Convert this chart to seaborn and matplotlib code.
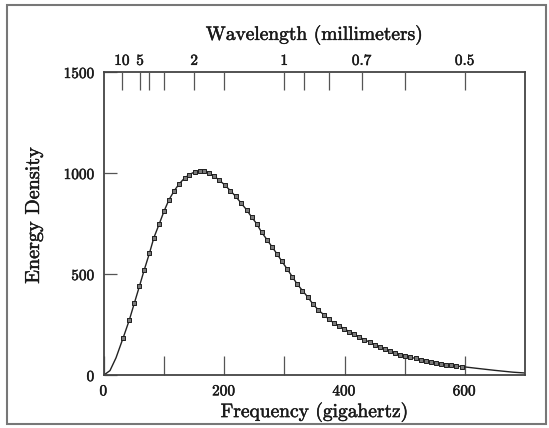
# blackbody spectrum chart: energy density vs frequency, wavelength on top axis
import numpy as np
import pandas as pd
import seaborn as sns
import matplotlib.pyplot as plt
import matplotlib.patheffects as pe
from matplotlib.patches import Rectangle
from matplotlib.ticker import FixedLocator, NullFormatter

point_freq = [32, 42, 50.5, 59, 67, 75.5, 83, 92, 100, 108, 117, 125, 134, 142,
              150.5, 159, 167, 175, 183, 192, 201, 210, 219, 228, 237, 245.5,
              254.5, 262, 271, 279.5, 288, 296, 304.5, 313, 321, 330, 339, 347,
              356, 365.5, 374, 382, 390.5, 399, 407.5, 416, 424.5, 433, 441.5,
              450, 458.5, 467, 475.5, 484, 492.5, 501, 509.5, 518, 526.5, 535,
              543.5, 552, 560.5, 569, 577.5, 586, 594.5]
point_vals = [185, 271, 356, 440, 521, 602, 680, 749, 812, 867, 913, 946, 975,
              992, 1005, 1008, 1008, 1000, 984, 964, 940, 913, 884, 851, 818,
              782, 746, 707, 670, 634, 598, 562, 525, 487, 451, 418, 385, 353,
              323, 298, 276, 258, 244, 230, 215, 201, 188, 175, 163, 150, 139,
              128, 118, 109, 101, 94, 88, 82, 76, 71, 66, 61, 56, 52, 48, 45, 42]

# smooth curve: the extra ends beyond the measured points
curve_head_freq = [0, 10, 20]
curve_head_vals = [0, 22, 85]
curve_tail_freq = [620, 650, 680, 700]
curve_tail_vals = [33, 23, 14, 10]

# wavelength axis (millimeters)
wl_major = [10, 5, 2, 1, 0.7, 0.5]
wl_major_labels = ["10", "5", "2", "1", "0.7", "0.5"]
wl_minor = [4, 3, 1.5, 0.9, 0.8, 0.6]
C_MM_GHZ = 299.79  # c in mm*GHz

points = pd.DataFrame({"freq": point_freq, "energy": point_vals})
curve = pd.DataFrame({
    "freq": curve_head_freq + point_freq + curve_tail_freq,
    "energy": curve_head_vals + point_vals + curve_tail_vals,
})

sns.set_theme(style="white")
plt.rcParams["font.family"] = ["cmr10", "DejaVu Serif"]
plt.rcParams["axes.formatter.use_mathtext"] = True
plt.rcParams["mathtext.fontset"] = "cm"

# slightly heavier text, like the printed page
ink = [pe.withStroke(linewidth=0.35, foreground="#1a1a1a")]

fig = plt.figure(figsize=(5.49, 4.28), dpi=100)
ax = fig.add_axes([0.1894, 0.1238, 0.7669, 0.708])

sns.lineplot(data=curve, x="freq", y="energy", ax=ax, color="#222222",
             linewidth=1.0)
sns.scatterplot(data=points, x="freq", y="energy", ax=ax, marker="s", s=10,
                color="#7a7a7a", edgecolor="#1f1f1f", linewidth=0.7, zorder=3)

ax.set_xlim(0, 700)
ax.set_ylim(0, 1500)
ax.set_xticks([0, 200, 400, 600])
ax.xaxis.set_minor_locator(FixedLocator([100, 300, 500]))
ax.set_yticks([0, 500, 1000, 1500])
ax.tick_params(axis="x", which="both", direction="in", length=14, width=0.9,
               color="#555555", labelsize=11, pad=6, bottom=True, top=False,
               labelcolor="#1a1a1a")
ax.tick_params(axis="y", which="both", direction="in", length=9.5, width=0.9,
               color="#555555", labelsize=11, pad=6, left=True, right=False,
               labelcolor="#1a1a1a")
ax.set_xlabel("Frequency (gigahertz)", fontsize=14, color="#1a1a1a",
              path_effects=ink)
ax.set_ylabel("Energy Density", fontsize=14.5, color="#1a1a1a",
              path_effects=ink)
ax.xaxis.set_label_coords(0.499, -0.089)
ax.yaxis.set_label_coords(-0.145, 0.526)
for sp in ax.spines.values():
    sp.set_color("#444444")
    sp.set_linewidth(1.3)
for lab in ax.get_xticklabels() + ax.get_yticklabels():
    lab.set_path_effects(ink)

# top wavelength axis
top = ax.twiny()
top.set_xlim(ax.get_xlim())
top.set_xticks([C_MM_GHZ / w for w in wl_major])
top.set_xticklabels(wl_major_labels)
top.xaxis.set_minor_locator(FixedLocator([C_MM_GHZ / w for w in wl_minor]))
top.xaxis.set_minor_formatter(NullFormatter())
top.tick_params(axis="x", which="both", direction="in", length=13, width=0.9,
                color="#555555", labelsize=11, pad=3, labelcolor="#1a1a1a")
top.set_xlabel("Wavelength (millimeters)", fontsize=14, color="#1a1a1a",
               path_effects=ink)
top.xaxis.set_label_coords(0.499, 1.106)
for lab in top.get_xticklabels():
    lab.set_path_effects(ink)
for sp in top.spines.values():
    sp.set_visible(False)

# scanned-page frame
fig.patches.append(Rectangle((0.013, 0.009), 0.981, 0.979,
                             transform=fig.transFigure, fill=False,
                             edgecolor="#777777", linewidth=1.5))

fig.savefig("out.png", dpi=100, facecolor="white")
